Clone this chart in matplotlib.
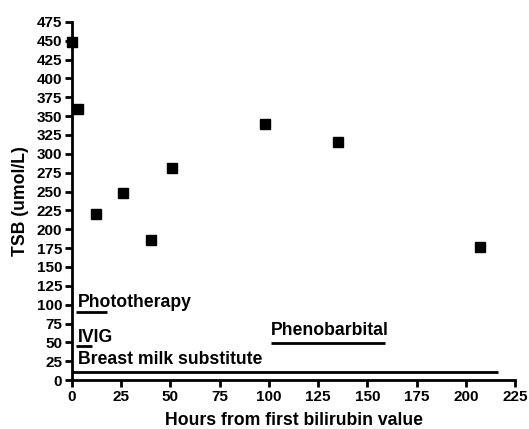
import matplotlib
matplotlib.use("Agg")
import matplotlib.pyplot as plt

plt.rcParams['font.family'] = ['Liberation Sans', 'DejaVu Sans']
plt.rcParams['font.weight'] = 'bold'

# data
hours = [0, 3, 12, 26, 40, 51, 98, 135, 207]
tsb = [448, 360, 220, 248, 186, 281, 339, 316, 177]

# treatment bars: (label, start, end, y level, label position)
treat_names = ["Phototherapy", "IVIG", "Phenobarbital", "Breast milk substitute"]
treat_start = [2, 2, 101, 0]
treat_end = [18, 10, 159, 216]
treat_y = [90, 45, 49, 11]
label_x = [3, 3, 101, 3]
label_y = [103, 57, 66, 27]

fig = plt.figure(figsize=(5.29, 4.29), dpi=100)
ax = fig.add_axes([0.136, 0.114, 0.838, 0.835])

ax.plot(hours, tsb, 's', color='black', markersize=6.5, clip_on=False, zorder=5)

for name, s, e, y, lx, ly in zip(treat_names, treat_start, treat_end, treat_y, label_x, label_y):
    ax.plot([s, e], [y, y], color='black', lw=2, solid_capstyle='butt', clip_on=False)
    ax.text(lx, ly, name, fontsize=12.7, fontweight='bold', ha='left', va='center')

ax.set_xlim(0, 225)
ax.set_ylim(0, 475)
ax.set_xticks(range(0, 226, 25))
ax.set_yticks(range(0, 476, 25))

for sp in ['top', 'right']:
    ax.spines[sp].set_visible(False)
for sp in ['left', 'bottom']:
    ax.spines[sp].set_linewidth(2)
ax.tick_params(direction='out', length=5, width=2, labelsize=11, pad=2)
for lab in ax.get_xticklabels() + ax.get_yticklabels():
    lab.set_fontweight('bold')

ax.set_xlabel("Hours from first bilirubin value", fontsize=12.7, fontweight='bold', labelpad=6)
ax.set_ylabel("TSB (umol/L)", fontsize=12.7, fontweight='bold')
ax.yaxis.set_label_coords(-0.097, 0.5)

fig.savefig("out.png", dpi=100, facecolor='white')
